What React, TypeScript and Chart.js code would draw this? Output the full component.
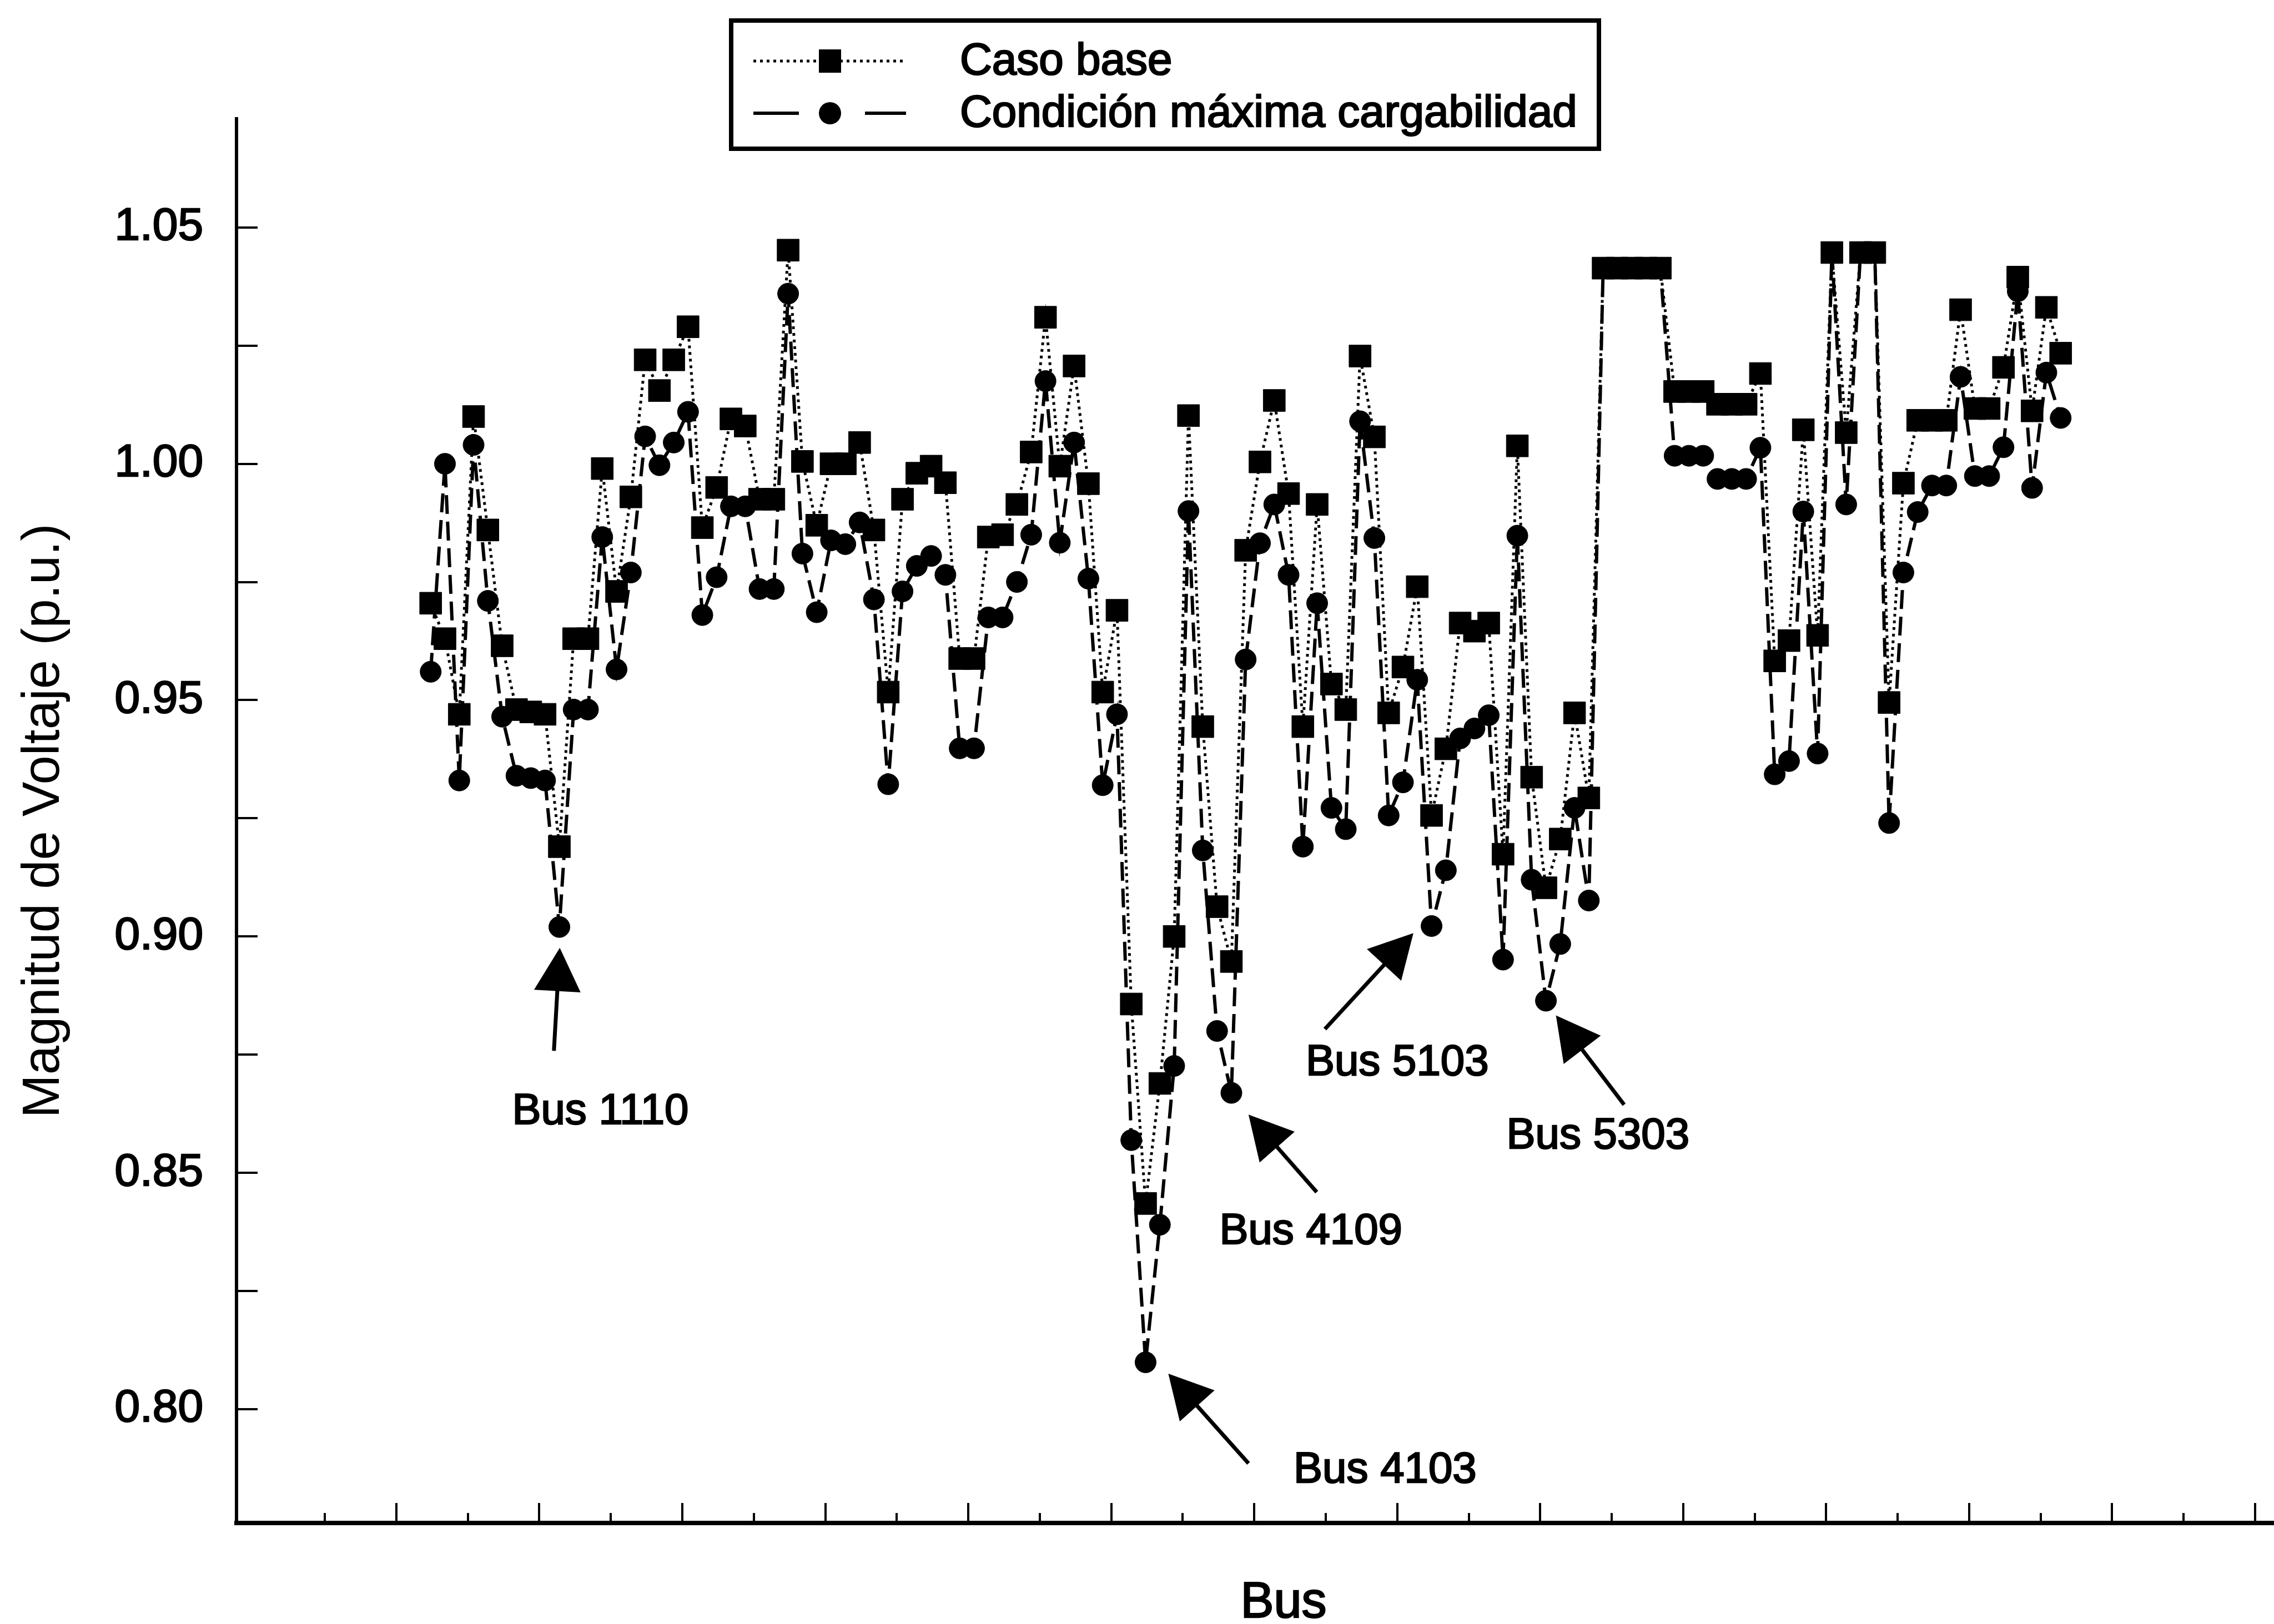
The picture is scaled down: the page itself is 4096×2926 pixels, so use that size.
import React, { useEffect, useRef } from 'react';
import { Chart, registerables } from 'chart.js';

Chart.register(...registerables);

// ---------------- data ----------------
const busIndex = [
  1, 2, 3, 4, 5, 6, 7, 8, 9, 10, 11, 12, 13, 14, 15, 16, 17, 18, 19, 20,
  21, 22, 23, 24, 25, 26, 27, 28, 29, 30, 31, 32, 33, 34, 35, 36, 37, 38, 39, 40,
  41, 42, 43, 44, 45, 46, 47, 48, 49, 50, 51, 52, 53, 54, 55, 56, 57, 58, 59, 60,
  61, 62, 63, 64, 65, 66, 67, 68, 69, 70, 71, 72, 73, 74, 75, 76, 77, 78, 79, 80,
  81, 82, 83, 84, 85, 86, 87, 88, 89, 90, 91, 92, 93, 94, 95, 96, 97, 98, 99, 100,
  101, 102, 103, 104, 105, 106, 107, 108, 109, 110, 111, 112, 113, 114, 115,
];

const casoBase = [
  0.9705, 0.963, 0.947, 1.010, 0.986, 0.9615, 0.948, 0.9475, 0.947, 0.919,
  0.963, 0.963, 0.999, 0.973, 0.993, 1.022, 1.0155, 1.022, 1.029, 0.9865,
  0.995, 1.0095, 1.008, 0.9925, 0.9925, 1.0452, 1.0005, 0.987, 1.000, 1.000,
  1.0045, 0.986, 0.9517, 0.9925, 0.998, 0.9995, 0.996, 0.9588, 0.9588, 0.9845,
  0.985, 0.9914, 1.0025, 1.031, 0.9995, 1.0207, 0.9958, 0.9517, 0.969, 0.8857,
  0.8435, 0.8689, 0.900, 1.0102, 0.9444, 0.9063, 0.8947, 0.9817, 1.0004, 1.0134,
  0.9937, 0.9444, 0.9914, 0.9534, 0.948, 1.0228, 1.0057, 0.9473, 0.957, 0.974,
  0.9256, 0.9397, 0.9663, 0.9646, 0.9663, 0.9174, 1.0038, 0.9337, 0.9103, 0.9206,
  0.9473, 0.9293, 1.0414, 1.0414, 1.0414, 1.0414, 1.0414, 1.0153, 1.0153, 1.0153,
  1.0126, 1.0126, 1.0126, 1.0191, 0.9583, 0.9626, 1.0072, 0.9637, 1.0447, 1.0066,
  1.0447, 1.0447, 0.9495, 0.9959, 1.0092, 1.0092, 1.0092, 1.0326, 1.0117, 1.0117,
  1.0204, 1.0395, 1.0112, 1.0331, 1.0234,
];

const maxCargabilidad = [
  0.956, 1.000, 0.933, 1.004, 0.971, 0.9465, 0.934, 0.9335, 0.933, 0.902,
  0.948, 0.948, 0.9845, 0.9565, 0.977, 1.0058, 0.9997, 1.0045, 1.011, 0.968,
  0.976, 0.991, 0.991, 0.9735, 0.9735, 1.036, 0.981, 0.9686, 0.9838, 0.983,
  0.9876, 0.9713, 0.9322, 0.973, 0.9784, 0.9805, 0.9765, 0.9398, 0.9398, 0.9675,
  0.9675, 0.975, 0.985, 1.0175, 0.9833, 1.0045, 0.9757, 0.932, 0.947, 0.8569,
  0.8099, 0.839, 0.8726, 0.990, 0.9182, 0.880, 0.8669, 0.9586, 0.9832, 0.9914,
  0.9765, 0.919, 0.9705, 0.9272, 0.9227, 1.009, 0.9843, 0.9256, 0.9326, 0.9543,
  0.9022, 0.914, 0.9419, 0.944, 0.9468, 0.8951, 0.9848, 0.912, 0.8864, 0.8984,
  0.9272, 0.9076, 1.0414, 1.0414, 1.0414, 1.0414, 1.0414, 1.0017, 1.0017, 1.0017,
  0.9968, 0.9968, 0.9968, 1.0034, 0.9343, 0.9371, 0.9899, 0.9387, 1.0447, 0.9914,
  1.0447, 1.0447, 0.924, 0.977, 0.9898, 0.9954, 0.9954, 1.0184, 0.9974, 0.9974,
  1.0035, 1.0365, 0.9949, 1.0193, 1.0097,
];

const seriesLabels = ['Caso base', 'Condición máxima cargabilidad'];
const yTickValues = [0.80, 0.85, 0.90, 0.95, 1.00, 1.05];
const yTickLabels = ['0.80', '0.85', '0.90', '0.95', '1.00', '1.05'];
const yAxisTitle = 'Magnitud de Voltaje (p.u.)';
const xAxisTitle = 'Bus';

// annotation labels with anchor points in data units (index, p.u.)
const busAnnotations = [
  { label: 'Bus 1110', tipX: 10.03, tipY: 0.8976, tailX: 9.62, tailY: 0.8758, textX: 12.87, textY: 0.8629 },
  { label: 'Bus 4103', tipX: 52.59, tipY: 0.8075, tailX: 58.2, tailY: 0.7885, textX: 67.75, textY: 0.787 },
  { label: 'Bus 4109', tipX: 58.2, tipY: 0.8623, tailX: 62.97, tailY: 0.8459, textX: 62.56, textY: 0.8375 },
  { label: 'Bus 5103', tipX: 69.73, tipY: 0.9007, tailX: 63.54, tailY: 0.8804, textX: 68.6, textY: 0.8732 },
  { label: 'Bus 5303', tipX: 79.7, tipY: 0.8833, tailX: 84.47, tailY: 0.8644, textX: 82.64, textY: 0.8577 },
];

// ---------------- layout / style ----------------
const W = 4096;
const H = 2926;
const FONT = '"Liberation Sans", Arial, Helvetica, sans-serif';
const X_MIN = -12.58;
const X_MAX = 129.92;
const Y_MIN = 0.7759;
const Y_MAX = 1.0730;
const X_TICK_START = -1.4;

const dotDash = [5, 7];
const longDash = [34, 14];

const decorPlugin = {
  id: 'decor',
  afterDraw(chart: any) {
    const { ctx, chartArea } = chart;
    const xs = chart.scales.x;
    const ys = chart.scales.y;
    ctx.save();
    ctx.strokeStyle = '#000';
    ctx.fillStyle = '#000';
    ctx.setLineDash([]);

    // inward y ticks every 0.025
    ctx.lineWidth = 4;
    for (let k = 0; k <= 10; k++) {
      const v = 0.8 + k * 0.025;
      const py = Math.round(ys.getPixelForValue(v));
      ctx.beginPath();
      ctx.moveTo(chartArea.left, py);
      ctx.lineTo(chartArea.left + 38, py);
      ctx.stroke();
    }

    // inward x ticks (major every 10, minor every 5)
    for (let k = -1; k < 30; k++) {
      const v = X_TICK_START + k * 5;
      if (v < X_MIN + 1 || v > X_MAX) continue;
      const px = Math.round(xs.getPixelForValue(v));
      const len = k % 2 === 0 ? 36 : 18;
      ctx.beginPath();
      ctx.moveTo(px, chartArea.bottom);
      ctx.lineTo(px, chartArea.bottom - len);
      ctx.stroke();
    }

    // annotations
    ctx.font = `78px ${FONT}`;
    ctx.textAlign = 'center';
    ctx.textBaseline = 'middle';
    for (const a of busAnnotations) {
      const tx = xs.getPixelForValue(a.tipX);
      const ty = ys.getPixelForValue(a.tipY);
      const lx = xs.getPixelForValue(a.tailX);
      const ly = ys.getPixelForValue(a.tailY);
      const ang = Math.atan2(ty - ly, tx - lx);
      const hl = 78;
      const hw = 42;
      const bx = tx - hl * Math.cos(ang);
      const by = ty - hl * Math.sin(ang);
      ctx.lineWidth = 7;
      ctx.beginPath();
      ctx.moveTo(lx, ly);
      ctx.lineTo(bx + 4 * Math.cos(ang), by + 4 * Math.sin(ang));
      ctx.stroke();
      ctx.beginPath();
      ctx.moveTo(tx, ty);
      ctx.lineTo(bx - hw * Math.sin(ang), by + hw * Math.cos(ang));
      ctx.lineTo(bx + hw * Math.sin(ang), by - hw * Math.cos(ang));
      ctx.closePath();
      ctx.fill();
      const px = xs.getPixelForValue(a.textX);
      const py = ys.getPixelForValue(a.textY);
      ctx.lineWidth = 2.5;
      ctx.strokeText(a.label, px, py);
      ctx.fillText(a.label, px, py);
    }

    // x axis title
    ctx.font = `90px ${FONT}`;
    ctx.textAlign = 'center';
    ctx.textBaseline = 'middle';
    ctx.lineWidth = 2.5;
    ctx.strokeText(xAxisTitle, 2312, 2889);
    ctx.fillText(xAxisTitle, 2312, 2889);

    // legend box
    const L = { left: 1317, top: 37, right: 2880, bottom: 268 };
    ctx.lineWidth = 8;
    ctx.strokeRect(L.left, L.top, L.right - L.left, L.bottom - L.top);
    const symL = 1357;
    const symR = 1632;
    const symC = 1495;
    const row1 = 110;
    const row2 = 204;
    // row 1: dotted + square
    ctx.lineWidth = 5;
    ctx.setLineDash(dotDash);
    ctx.beginPath();
    ctx.moveTo(symL, row1);
    ctx.lineTo(symR, row1);
    ctx.stroke();
    ctx.setLineDash([]);
    ctx.fillRect(symC - 20, row1 - 21, 40, 42);
    // row 2: dashed + circle
    ctx.lineWidth = 6;
    ctx.beginPath();
    ctx.moveTo(symL, row2);
    ctx.lineTo(symL + 82, row2);
    ctx.moveTo(symR - 74, row2);
    ctx.lineTo(symR, row2);
    ctx.stroke();
    ctx.beginPath();
    ctx.arc(symC, row2, 20, 0, Math.PI * 2);
    ctx.fill();
    // legend text
    ctx.font = `80px ${FONT}`;
    ctx.textAlign = 'left';
    ctx.textBaseline = 'middle';
    ctx.lineWidth = 2.5;
    ctx.strokeText(seriesLabels[0], 1729, row1 + 2);
    ctx.fillText(seriesLabels[0], 1729, row1 + 2);
    ctx.strokeText(seriesLabels[1], 1729, row2 + 2);
    ctx.fillText(seriesLabels[1], 1729, row2 + 2);

    ctx.restore();
  },
};

export default function App() {
  const canvasRef = useRef<HTMLCanvasElement | null>(null);

  useEffect(() => {
    document.body.style.margin = '0';
    document.body.style.overflow = 'hidden';
    const canvas = canvasRef.current;
    if (!canvas) return;

    const chart = new Chart(canvas, {
      type: 'line',
      data: {
        datasets: [
          {
            label: seriesLabels[0],
            data: busIndex.map((b, i) => ({ x: b, y: casoBase[i] })),
            borderColor: '#000',
            backgroundColor: '#000',
            borderWidth: 5,
            borderDash: dotDash,
            pointStyle: 'rect',
            pointRadius: 28,
            pointBackgroundColor: '#000',
            pointBorderColor: '#000',
            pointBorderWidth: 1,
            tension: 0,
            fill: false,
          },
          {
            label: seriesLabels[1],
            data: busIndex.map((b, i) => ({ x: b, y: maxCargabilidad[i] })),
            borderColor: '#000',
            backgroundColor: '#000',
            borderWidth: 6,
            borderDash: longDash,
            pointStyle: 'circle',
            pointRadius: 19,
            pointBackgroundColor: '#000',
            pointBorderColor: '#000',
            pointBorderWidth: 1,
            tension: 0,
            fill: false,
          },
        ],
      },
      options: {
        responsive: false,
        maintainAspectRatio: false,
        devicePixelRatio: 1,
        animation: false,
        events: [],
        layout: { autoPadding: false, padding: { top: 214, right: 0, bottom: 0, left: 0 } },
        plugins: {
          legend: { display: false },
          tooltip: { enabled: false },
          title: { display: false },
        },
        scales: {
          x: {
            type: 'linear',
            min: X_MIN,
            max: X_MAX,
            ticks: { display: false },
            grid: { display: false, drawTicks: false },
            border: { display: true, width: 8, color: '#000' },
            title: { display: false, text: xAxisTitle },
            afterFit(scale: any) {
              scale.height = 182;
            },
          },
          y: {
            type: 'linear',
            min: Y_MIN,
            max: Y_MAX,
            afterBuildTicks(scale: any) {
              scale.ticks = yTickValues.map((v) => ({ value: v }));
            },
            ticks: {
              color: '#000',
              font: { family: FONT, size: 82 },
              padding: 60,
              autoSkip: false,
              textStrokeColor: '#000',
              textStrokeWidth: 2.5,
              callback: (value: any) => {
                const idx = yTickValues.findIndex((t) => Math.abs(t - Number(value)) < 1e-6);
                return idx >= 0 ? yTickLabels[idx] : '';
              },
            },
            grid: { display: false, drawTicks: false },
            border: { display: true, width: 6, color: '#000' },
            title: {
              display: true,
              text: yAxisTitle,
              color: '#000',
              font: { family: FONT, size: 94 },
              padding: { top: 24, bottom: 0 },
            },
            afterFit(scale: any) {
              scale.width = 426;
            },
          },
        },
      },
      plugins: [decorPlugin],
    } as any);

    return () => {
      chart.destroy();
    };
  }, []);

  return (
    <div style={{ width: W, height: H, position: 'relative', background: '#fff' }}>
      <canvas ref={canvasRef} width={W} height={H} style={{ display: 'block', width: W, height: H }} />
    </div>
  );
}
